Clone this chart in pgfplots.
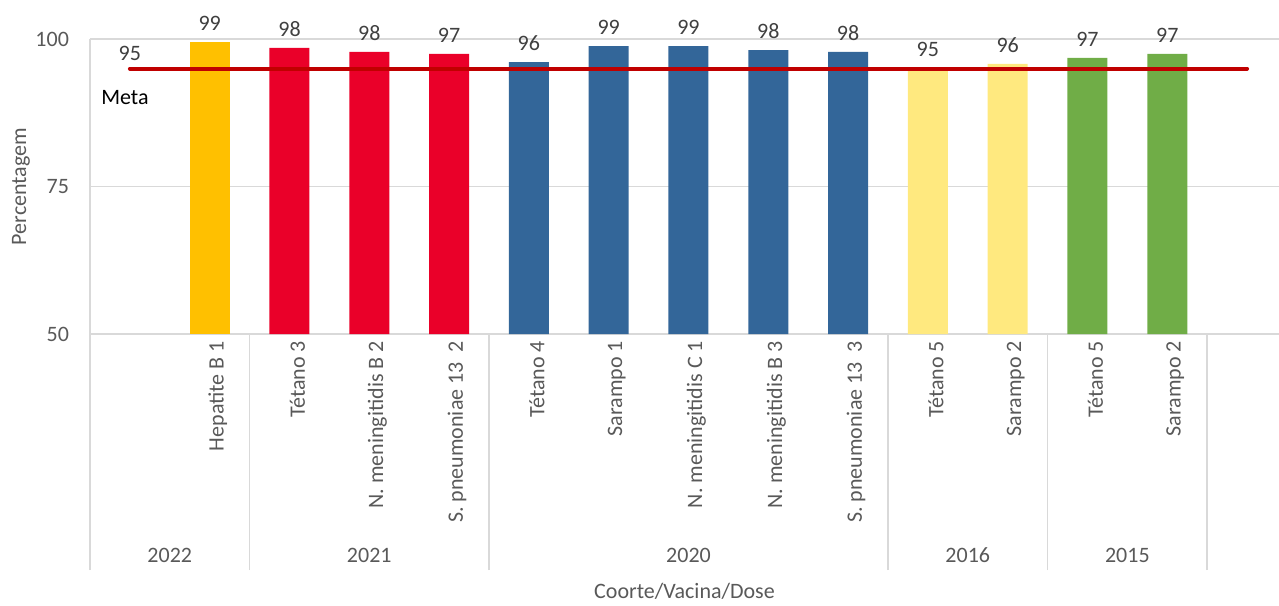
\documentclass[border=0pt]{standalone}
\usepackage{fontspec}
\setmainfont{Carlito}
\usepackage{pgfplots}
\pgfplotsset{compat=1.18}

\definecolor{cOrange}{HTML}{FFC000}
\definecolor{cRed}{HTML}{EA0029}
\definecolor{cBlue}{HTML}{336699}
\definecolor{cLYellow}{HTML}{FFE97F}
\definecolor{cGreen}{HTML}{70AD47}
\definecolor{cMeta}{HTML}{C00000}
\definecolor{lblgray}{HTML}{404040}
\definecolor{tickgray}{HTML}{595959}
\definecolor{gridgray}{HTML}{D9D9D9}

\begin{document}
\begin{tikzpicture}
\begin{axis}[
    width=594.5pt, height=147.5pt,
    scale only axis,
    clip=false,
    font=\fontsize{11}{13}\selectfont,
    /pgf/number format/assume math mode=true,
    xmin=-0.5, xmax=14.4,
    ymin=50, ymax=100,
    ytick={50,75,100},
    ymajorgrids,
    grid style={gridgray, line width=0.6pt},
    axis x line*=bottom,
    axis y line*=left,
    axis line style={gridgray, line width=0.6pt},
    major tick length=0pt,
    ticklabel style={text=tickgray},
    yticklabel style={xshift=-7pt},
    xtick={0,...,14},
    xticklabels={,Hepatite B 1,Tétano 3,N. meningitidis B 2,S. pneumoniae 13~~2,Tétano 4,Sarampo 1,N. meningitidis C 1,N. meningitidis B 3,S. pneumoniae 13~~3,Tétano 5,Sarampo 2,Tétano 5,Sarampo 2,},
    xticklabel style={rotate=90, anchor=east, yshift=-4pt},
    extra x ticks={-0.5,1.5,4.5,9.5,11.5,13.5},
    extra x tick labels={},
    extra x tick style={major tick length=118pt, tick align=outside,
        tick style={gridgray, line width=0.8pt}, grid=none},
    ylabel={Percentagem},
    ylabel style={at={(rel axis cs:-0.058,0.5)}, anchor=center, text=tickgray},
    xlabel={Coorte/Vacina/Dose},
    xlabel style={at={(rel axis cs:0.5,-0.872)}, anchor=center, text=tickgray},
    nodes near coords,
    point meta=explicit symbolic,
    nodes near coords style={anchor=south, inner sep=0pt, yshift=5.5pt, text=lblgray},
]
\addplot[ybar, bar width=20pt, bar shift=0pt, fill=cOrange, draw=none]
    coordinates {(1,99.5)[99]};
\addplot[ybar, bar width=20pt, bar shift=0pt, fill=cRed, draw=none]
    coordinates {(2,98.5)[98] (3,97.8)[98] (4,97.5)[97]};
\addplot[ybar, bar width=20pt, bar shift=0pt, fill=cBlue, draw=none]
    coordinates {(5,96.1)[96] (6,98.8)[99] (7,98.8)[99] (8,98.1)[98] (9,97.8)[98]};
\addplot[ybar, bar width=20pt, bar shift=0pt, fill=cLYellow, draw=none]
    coordinates {(10,95.1)[95] (11,95.8)[96]};
\addplot[ybar, bar width=20pt, bar shift=0pt, fill=cGreen, draw=none]
    coordinates {(12,96.8)[97] (13,97.5)[97]};
% meta
\addplot[cMeta, line width=2pt, line cap=round, no marks, nodes near coords={}]
    coordinates {(0,95) (1,95) (2,95) (3,95) (4,95) (5,95) (6,95) (7,95)
                 (8,95) (9,95) (10,95) (11,95) (12,95) (13,95) (14,95)};

\node[text=lblgray, anchor=south, inner sep=0pt, yshift=3.5pt] at (axis cs:0,95) {95};
\node[text=black, anchor=center, inner sep=0pt, yshift=-14.5pt, xshift=-2.5pt] at (axis cs:0,95) {Meta};

\node[text=tickgray] at (axis cs:0.5,50) [yshift=-110.5pt] {2022};
\node[text=tickgray] at (axis cs:3,50) [yshift=-110.5pt] {2021};
\node[text=tickgray] at (axis cs:7,50) [yshift=-110.5pt] {2020};
\node[text=tickgray] at (axis cs:10.5,50) [yshift=-110.5pt] {2016};
\node[text=tickgray] at (axis cs:12.5,50) [yshift=-110.5pt] {2015};

\coordinate (bl) at (rel axis cs:0,0);
\coordinate (tr) at (rel axis cs:1,1);
\end{axis}
\pgfresetboundingbox
\path[use as bounding box] ([xshift=-45pt,yshift=-135.5pt]bl) rectangle ([yshift=19.5pt]tr);
\end{tikzpicture}
\end{document}
